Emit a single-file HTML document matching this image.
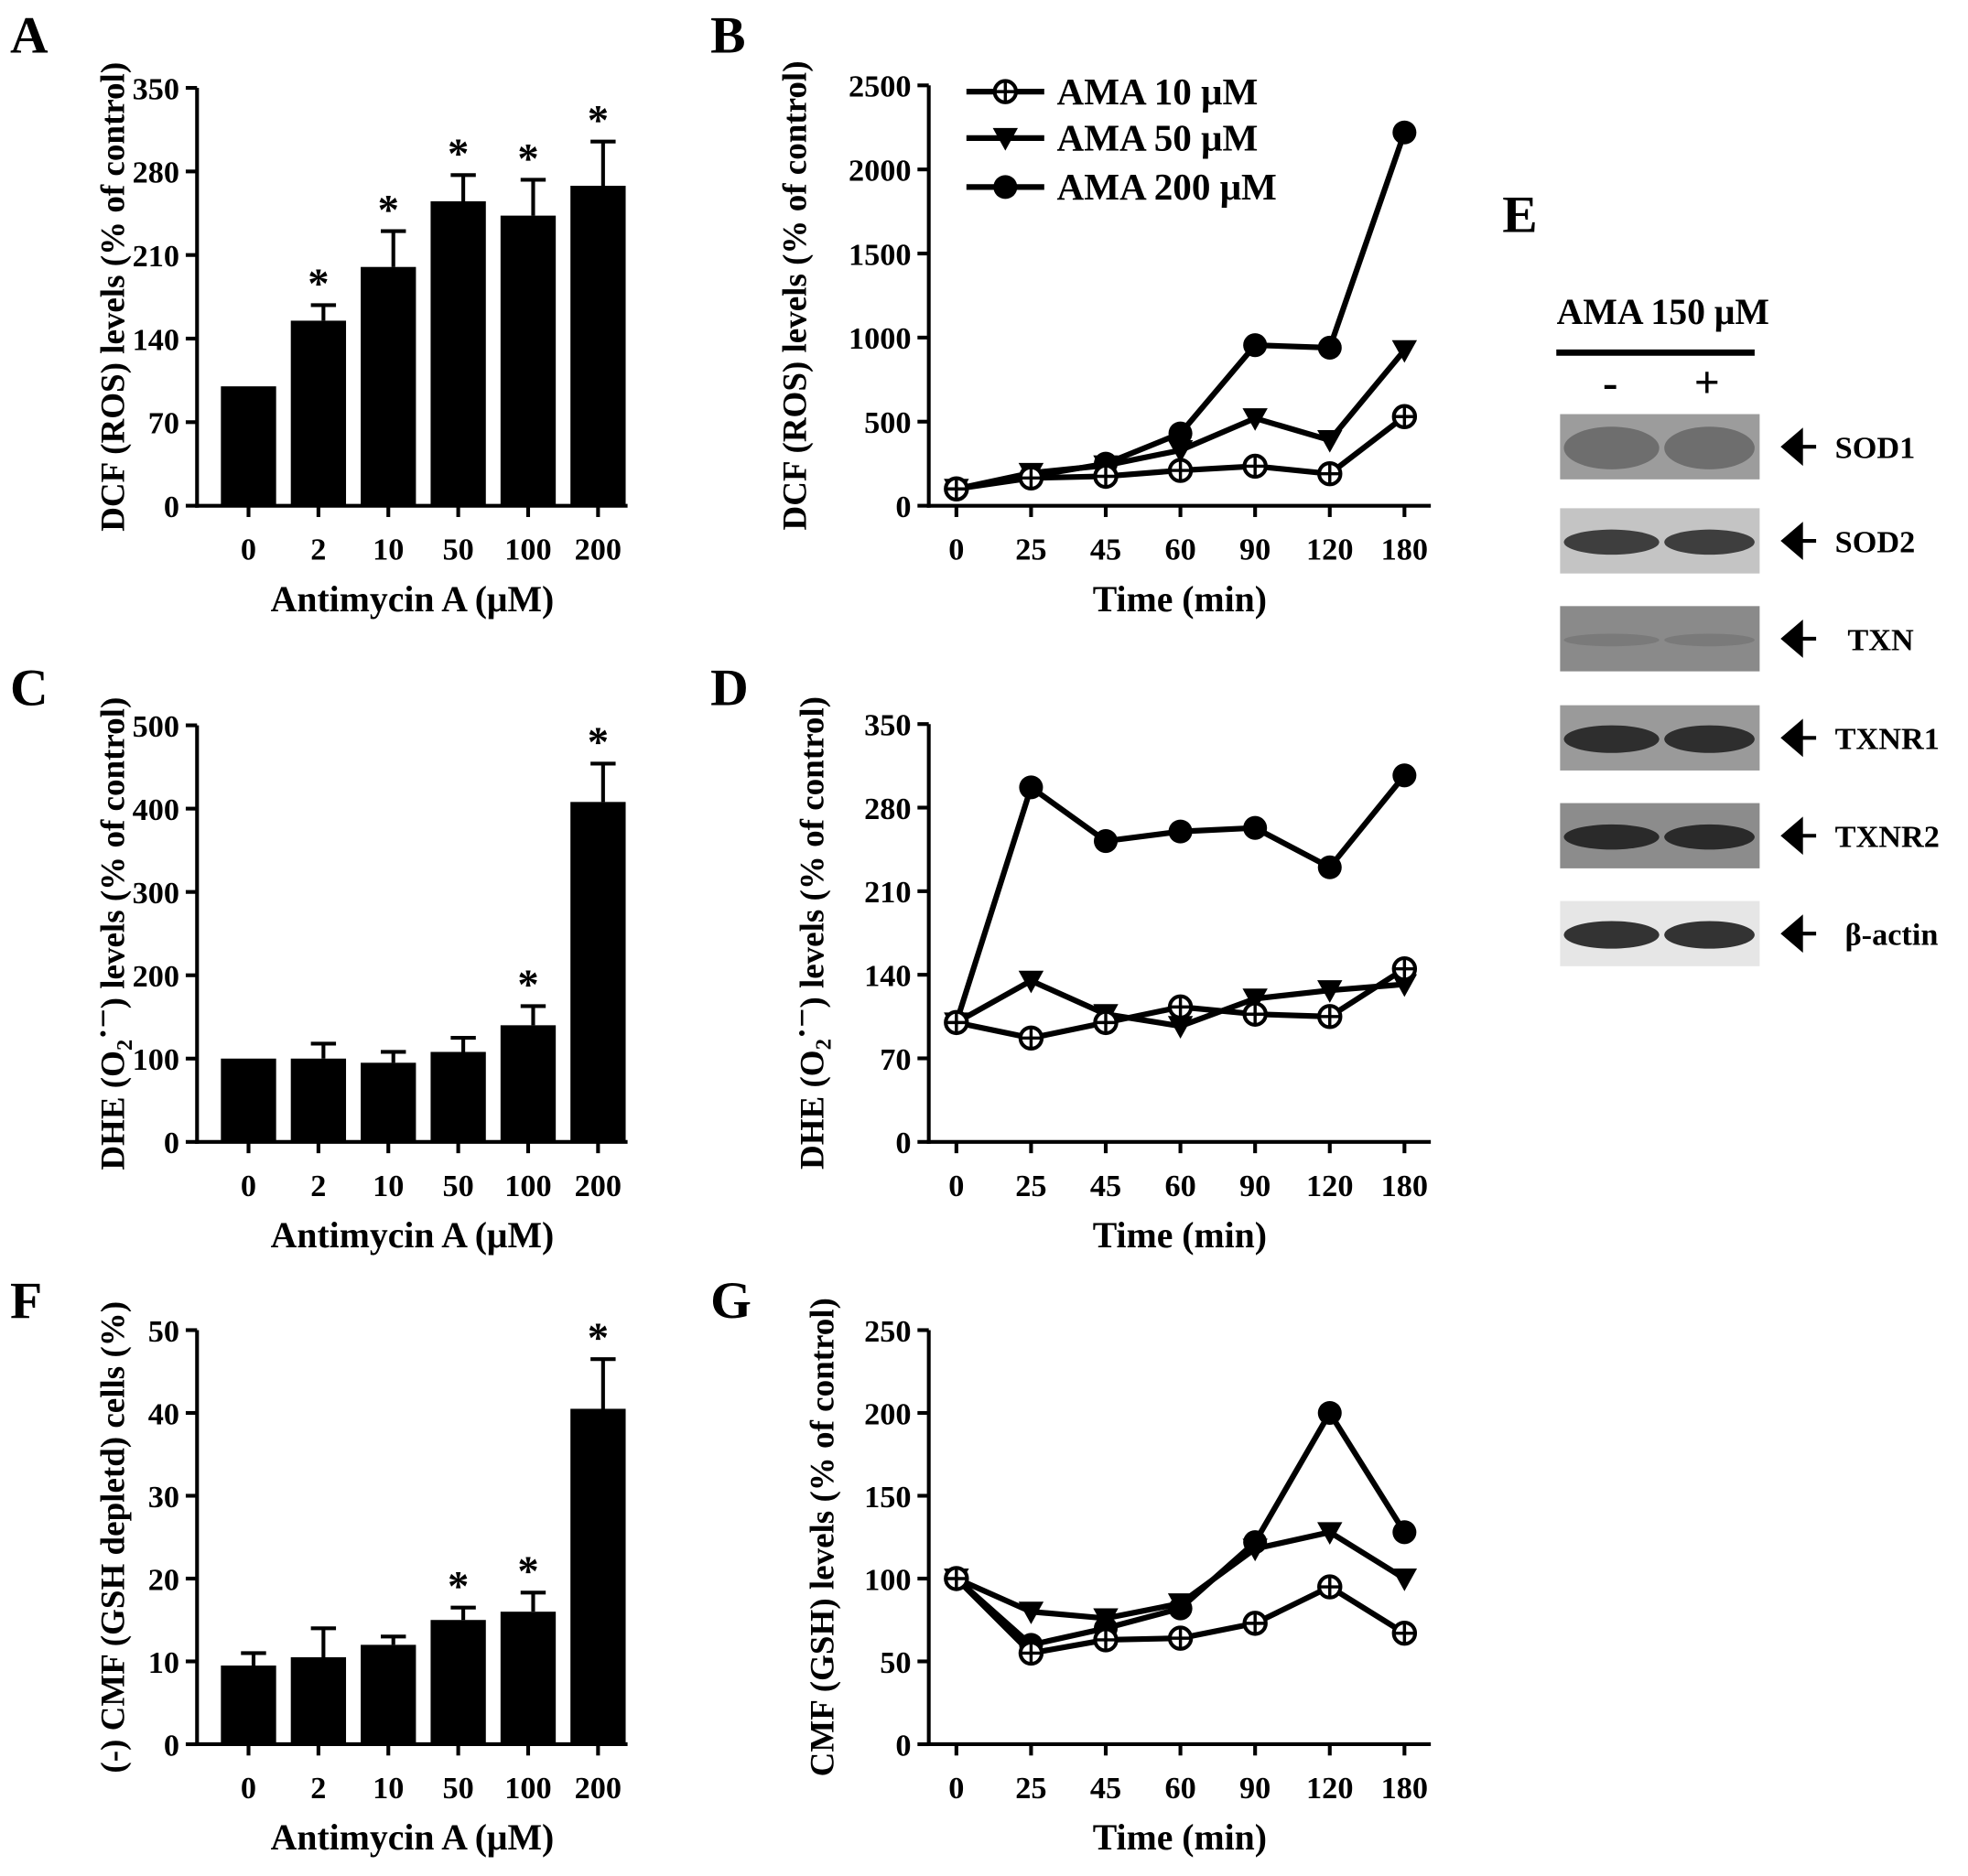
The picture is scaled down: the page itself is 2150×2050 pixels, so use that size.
<!DOCTYPE html>
<html><head><meta charset="utf-8"><style>
html,body{margin:0;padding:0;background:#fff;}
svg{display:block;}
text{font-family:"Liberation Serif",serif;font-weight:bold;fill:#000;}
</style></head><body>
<svg id="fig" width="2150" height="2050" viewBox="0 0 1568 1495" xmlns="http://www.w3.org/2000/svg"></svg>
<script>
const NS="http://www.w3.org/2000/svg";
const svg=document.getElementById('fig');
// ---- data ----
const doseCats=["0","2","10","50","100","200"];
const timeCats=["0","25","45","60","90","120","180"];
const aVals=[100,155,200,255,243,268];
const aErr=[0,168,230,277,273,305];
const aStar=[false,true,true,true,true,true];
const aTicks=[0,70,140,210,280,350];
const cVals=[100,100,95,108,140,408];
const cErr=[0,118,108,125,163,454];
const cStar=[false,false,false,false,true,true];
const cTicks=[0,100,200,300,400,500];
const fVals=[9.5,10.5,12,15,16,40.5];
const fErr=[11,14,13,16.5,18.3,46.5];
const fStar=[false,false,false,true,true,true];
const fTicks=[0,10,20,30,40,50];
const bAma10=[100,165,175,210,235,190,530];
const bAma50=[100,195,240,330,520,390,925];
const bAma200=[100,175,250,430,955,940,2220];
const bTicks=[0,500,1000,1500,2000,2500];
const dAma10=[100,87,100,113,107,105,145];
const dAma50=[100,135,107,97,120,127,132];
const dAma200=[100,297,252,260,263,230,307];
const dTicks=[0,70,140,210,280,350];
const gAma10=[100,55,63,64,73,95,67];
const gAma50=[100,80,76,85,118,128,100];
const gAma200=[100,60,70,82,122,200,128];
const gTicks=[0,50,100,150,200,250];
const blotLabels=["SOD1","SOD2","TXN","TXNR1","TXNR2","β-actin"];

function el(tag,attrs,parent,txt){const e=document.createElementNS(NS,tag);for(const k in attrs)e.setAttribute(k,attrs[k]);if(txt!==undefined)e.textContent=txt;(parent||svg).appendChild(e);return e;}

function axes(g,x0,yTop,yBot,xEnd,ticks,cats,catX,ytitle,xtitle,xtY,titleX){
  const max=ticks[ticks.length-1];
  const sy=v=>yBot-(v/max)*(yBot-yTop);
  const ya=el('line',{x1:x0,y1:yTop,x2:x0,y2:yBot+1.5,stroke:'#000','stroke-width':3},g);
  
  const xa=el('line',{x1:x0-1.5,y1:yBot,x2:xEnd,y2:yBot,stroke:'#000','stroke-width':3},g);
  
  ticks.forEach(t=>{const y=sy(t);
    el('line',{x1:x0-9,y1:y,x2:x0,y2:y,stroke:'#000','stroke-width':3},g);
    const tl=el('text',{x:x0-14,y:y+9,'text-anchor':'end','font-size':25},g,String(t));
    });
  cats.forEach((c,i)=>{const x=catX(i);
    el('line',{x1:x,y1:yBot,x2:x,y2:yBot+9,stroke:'#000','stroke-width':3},g);
    const tl=el('text',{x:x,y:yBot+43,'text-anchor':'middle','font-size':25},g,c);
    });
  const xt=el('text',{x:(x0+xEnd)/2,y:xtY,'text-anchor':'middle','font-size':29},g,xtitle);
  
  const cy=(yTop+yBot)/2;
  const yt=el('text',{x:titleX,y:cy,'text-anchor':'middle','font-size':27,transform:`rotate(-90 ${titleX} ${cy})`},g);
  yt.innerHTML=ytitle;
  
  return sy;
}

function barPanel(name,x0,yTop,yBot,ticks,vals,err,star,ytitle){
  const g=el('g',{},svg);
  const catX=i=>198+i*55.7;
  const sy=axes(g,157,yTop,yBot,500,ticks,doseCats,catX,ytitle,"Antimycin A (μM)",yBot+84,99);
  vals.forEach((v,i)=>{const x=catX(i);
    if(err[i]>v){const e=el('path',{d:`M${x+4} ${sy(v)} V${sy(err[i])} M${x-6} ${sy(err[i])} H${x+14}`,stroke:'#000','stroke-width':3,fill:'none'},g);
      }
    const b=el('rect',{x:x-22,y:sy(v),width:44,height:yBot-sy(v),fill:'#000'},g);
    
    if(star[i]){const s=el('text',{x:x,y:sy(Math.max(err[i],v))-6,'text-anchor':'middle','font-size':34},g,'*');
      }
  });
}

function marker(g,type,x,y){
  if(type==='open'){el('circle',{cx:x,cy:y,r:8.5,fill:'#fff',stroke:'#000','stroke-width':3},g);
    el('path',{d:`M${x-8} ${y}H${x+8}M${x} ${y-8}V${y+8}`,stroke:'#000','stroke-width':2.5},g);}
  else if(type==='tri'){el('path',{d:`M${x-10} ${y-8}H${x+10}L${x} ${y+10}Z`,fill:'#000'},g);}
  else el('circle',{cx:x,cy:y,r:9.5,fill:'#000'},g);
}

function linePanel(name,yTop,yBot,ticks,s10,s50,s200,ytitle,titleX){
  const g=el('g',{},svg);
  const catX=i=>762+i*59.5;
  const sy=axes(g,740,yTop,yBot,1140,ticks,timeCats,catX,ytitle,"Time (min)",yBot+84,titleX);
  [[s200,'fill','series-ama-200'],[s50,'tri','series-ama-50'],[s10,'open','series-ama-10']].forEach(([s,t,n])=>{
    const sg=el('g',{},g);
    el('polyline',{points:s.map((v,i)=>catX(i)+','+sy(v)).join(' '),fill:'none',stroke:'#000','stroke-width':4.5},sg);
    s.forEach((v,i)=>marker(sg,t,catX(i),sy(v)));
  });
}

const dheTitle='DHE (O<tspan font-size="18" dy="6">2</tspan><tspan dy="-14">·−</tspan><tspan dy="8">) levels (% of control)</tspan>';
barPanel('panel-a',157,70,403,aTicks,aVals,aErr,aStar,"DCF (ROS) levels (% of control)");
barPanel('panel-c',157,578,910,cTicks,cVals,cErr,cStar,dheTitle);
barPanel('panel-f',157,1060,1390,fTicks,fVals,fErr,fStar,"(-) CMF (GSH depletd) cells (%)");
linePanel('panel-b',68,403,bTicks,bAma10,bAma50,bAma200,"DCF (ROS) levels (% of control)",642);
linePanel('panel-d',577,910,dTicks,dAma10,dAma50,dAma200,dheTitle,656);
linePanel('panel-g',1060,1390,gTicks,gAma10,gAma50,gAma200,"CMF (GSH) levels (% of control)",664);

// legend
const lg=el('g',{},svg);
[['open','AMA 10 μM',73],['tri','AMA 50 μM',110],['fill','AMA 200 μM',149]].forEach(([t,l,y])=>{
  const eg=el('g',{},lg);
  el('line',{x1:770,y1:y,x2:832,y2:y,stroke:'#000','stroke-width':4.5},eg);marker(eg,t,801,y);
  el('text',{x:842,y:y+10,'font-size':30},eg,l);});

// panel letters
[['A',8,42],['B',566,42],['C',8,562],['D',566,562],['F',8,1050],['G',566,1050],['E',1197,185]].forEach(([l,x,y])=>{
  const t=el('text',{x:x,y:y,'font-size':42},svg,l);});

// panel E blots
const eg=el('g',{},svg);
el('text',{x:1325,y:258,'text-anchor':'middle','font-size':29},eg,'AMA 150 μM');
el('line',{x1:1240,y1:281,x2:1398,y2:281,stroke:'#000','stroke-width':5},eg);
el('text',{x:1283,y:317,'text-anchor':'middle','font-size':36},eg,'-');
el('text',{x:1360,y:317,'text-anchor':'middle','font-size':36},eg,'+');
const rowsY=[330,405,483,562,640,718];
const bg=['#9c9c9c','#c4c4c4','#8a8a8a','#9a9a9a','#8c8c8c','#e6e6e6'];
const band=['#6e6e6e','#3e3e3e','#7a7a7a','#2e2e2e','#2a2a2a','#333'];
const bh=[34,20,10,22,20,22];
blotLabels.forEach((l,i)=>{const y=rowsY[i];
  const r=el('g',{},eg);
  el('rect',{x:1243,y:y,width:159,height:52,fill:bg[i]},r);
  el('ellipse',{cx:1284,cy:y+27,rx:38,ry:bh[i]/2,fill:band[i]},r);
  el('ellipse',{cx:1362,cy:y+27,rx:36,ry:bh[i]/2,fill:band[i]},r);
  el('path',{d:`M1421 ${y+26}H1447M1421 ${y+26}l14 -12v24z`,stroke:'#000','stroke-width':3,fill:'#000'},r);
  el('text',{x:l==='TXN'?1472:(l.startsWith('β')?1470:1462),y:y+35,'font-size':25},r,l);
});
</script>
</body></html>
